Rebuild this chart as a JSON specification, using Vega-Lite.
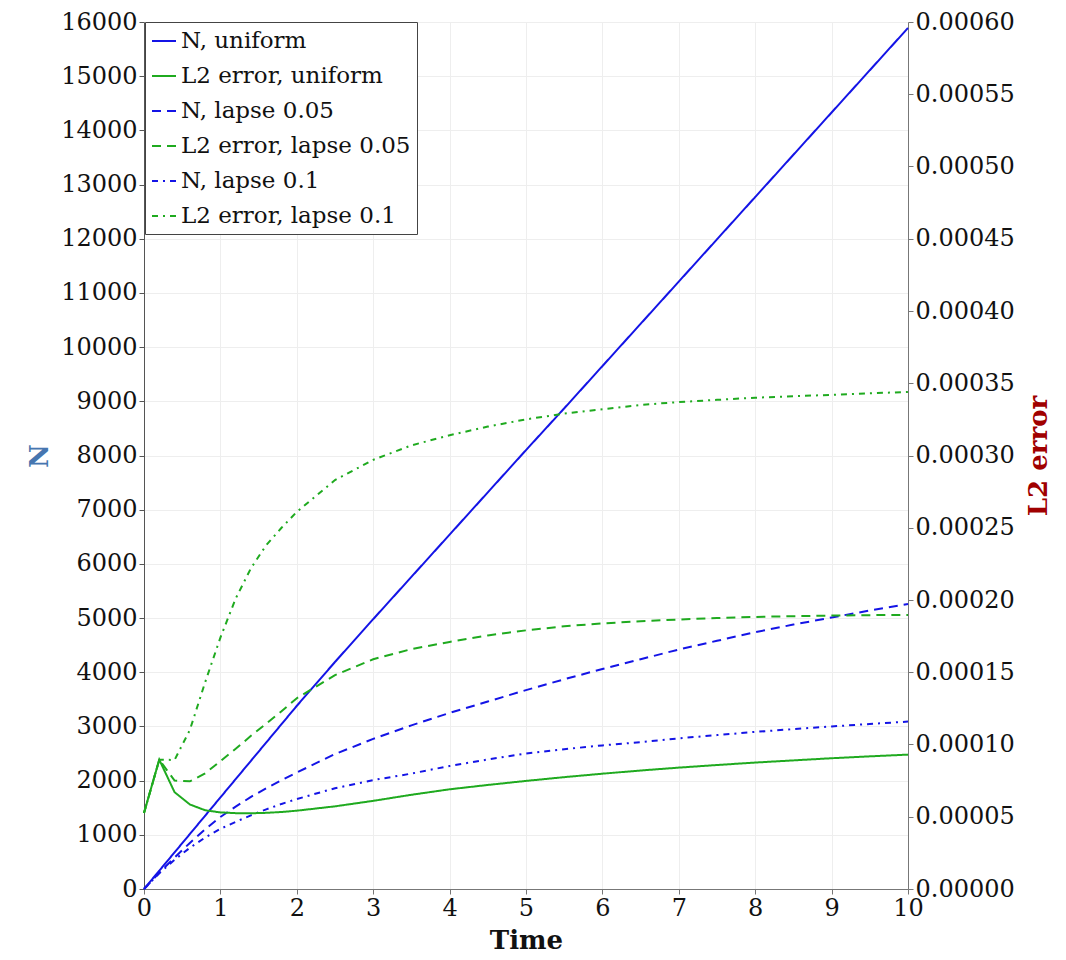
{
  "$schema": "https://vega.github.io/schema/vega-lite/v6.json",
  "width": 764,
  "height": 867,
  "autosize": {"type": "none"},
  "padding": {"left": 144, "top": 22, "right": 158, "bottom": 71},
  "background": "white",
  "config": {
    "font": "DejaVu Serif",
    "view": {"stroke": null},
    "axis": {
      "labelFont": "DejaVu Serif",
      "labelFontSize": 24,
      "labelColor": "#111111",
      "labelFlush": false,
      "labelOverlap": false,
      "titleFont": "DejaVu Serif",
      "titleFontSize": 26,
      "titleFontWeight": "bold",
      "grid": true,
      "gridColor": "#eeeeee",
      "gridWidth": 1,
      "domainColor": "#777777",
      "tickColor": "#777777",
      "tickSize": 5,
      "labelPadding": 2
    },
    "legend": {
      "orient": "none",
      "legendX": 1,
      "legendY": 0,
      "strokeColor": "#444444",
      "fillColor": "white",
      "padding": 6,
      "symbolType": "stroke",
      "symbolSize": 576,
      "symbolStrokeWidth": 2,
      "labelFont": "DejaVu Serif",
      "labelFontSize": 23,
      "labelColor": "#111111",
      "labelOffset": 4,
      "labelLimit": 500,
      "rowPadding": 10,
      "cornerRadius": 0
    }
  },
  "data": {
    "values": [
      {"t": 0, "s": "N, uniform", "v": 0},
      {"t": 0.2, "s": "N, uniform", "v": 338},
      {"t": 0.4, "s": "N, uniform", "v": 676},
      {"t": 0.6, "s": "N, uniform", "v": 1014},
      {"t": 0.8, "s": "N, uniform", "v": 1352},
      {"t": 1, "s": "N, uniform", "v": 1690},
      {"t": 1.2, "s": "N, uniform", "v": 2028},
      {"t": 1.4, "s": "N, uniform", "v": 2366},
      {"t": 1.6, "s": "N, uniform", "v": 2704},
      {"t": 1.8, "s": "N, uniform", "v": 3042},
      {"t": 2, "s": "N, uniform", "v": 3380},
      {"t": 2.5, "s": "N, uniform", "v": 4190},
      {"t": 3, "s": "N, uniform", "v": 4980},
      {"t": 3.5, "s": "N, uniform", "v": 5760},
      {"t": 4, "s": "N, uniform", "v": 6540},
      {"t": 4.5, "s": "N, uniform", "v": 7320},
      {"t": 5, "s": "N, uniform", "v": 8100},
      {"t": 5.5, "s": "N, uniform", "v": 8870},
      {"t": 6, "s": "N, uniform", "v": 9650},
      {"t": 6.5, "s": "N, uniform", "v": 10430},
      {"t": 7, "s": "N, uniform", "v": 11210},
      {"t": 7.5, "s": "N, uniform", "v": 11990},
      {"t": 8, "s": "N, uniform", "v": 12770},
      {"t": 8.5, "s": "N, uniform", "v": 13550},
      {"t": 9, "s": "N, uniform", "v": 14330},
      {"t": 9.5, "s": "N, uniform", "v": 15110},
      {"t": 10, "s": "N, uniform", "v": 15890},

      {"t": 0, "s": "N, lapse 0.05", "v": 0},
      {"t": 0.2, "s": "N, lapse 0.05", "v": 300},
      {"t": 0.4, "s": "N, lapse 0.05", "v": 580},
      {"t": 0.6, "s": "N, lapse 0.05", "v": 850},
      {"t": 0.8, "s": "N, lapse 0.05", "v": 1100},
      {"t": 1, "s": "N, lapse 0.05", "v": 1330},
      {"t": 1.2, "s": "N, lapse 0.05", "v": 1520},
      {"t": 1.4, "s": "N, lapse 0.05", "v": 1700},
      {"t": 1.6, "s": "N, lapse 0.05", "v": 1860},
      {"t": 1.8, "s": "N, lapse 0.05", "v": 2010},
      {"t": 2, "s": "N, lapse 0.05", "v": 2150},
      {"t": 2.5, "s": "N, lapse 0.05", "v": 2490},
      {"t": 3, "s": "N, lapse 0.05", "v": 2770},
      {"t": 3.5, "s": "N, lapse 0.05", "v": 3020},
      {"t": 4, "s": "N, lapse 0.05", "v": 3250},
      {"t": 4.5, "s": "N, lapse 0.05", "v": 3460},
      {"t": 5, "s": "N, lapse 0.05", "v": 3670},
      {"t": 5.5, "s": "N, lapse 0.05", "v": 3870},
      {"t": 6, "s": "N, lapse 0.05", "v": 4060},
      {"t": 6.5, "s": "N, lapse 0.05", "v": 4240},
      {"t": 7, "s": "N, lapse 0.05", "v": 4420},
      {"t": 7.5, "s": "N, lapse 0.05", "v": 4580},
      {"t": 8, "s": "N, lapse 0.05", "v": 4740},
      {"t": 8.5, "s": "N, lapse 0.05", "v": 4880},
      {"t": 9, "s": "N, lapse 0.05", "v": 5010},
      {"t": 9.5, "s": "N, lapse 0.05", "v": 5140},
      {"t": 10, "s": "N, lapse 0.05", "v": 5260},

      {"t": 0, "s": "N, lapse 0.1", "v": 0},
      {"t": 0.2, "s": "N, lapse 0.1", "v": 290},
      {"t": 0.4, "s": "N, lapse 0.1", "v": 540},
      {"t": 0.6, "s": "N, lapse 0.1", "v": 760},
      {"t": 0.8, "s": "N, lapse 0.1", "v": 950},
      {"t": 1, "s": "N, lapse 0.1", "v": 1110},
      {"t": 1.2, "s": "N, lapse 0.1", "v": 1240},
      {"t": 1.4, "s": "N, lapse 0.1", "v": 1360},
      {"t": 1.6, "s": "N, lapse 0.1", "v": 1470},
      {"t": 1.8, "s": "N, lapse 0.1", "v": 1570},
      {"t": 2, "s": "N, lapse 0.1", "v": 1660},
      {"t": 2.5, "s": "N, lapse 0.1", "v": 1860},
      {"t": 3, "s": "N, lapse 0.1", "v": 2010},
      {"t": 3.5, "s": "N, lapse 0.1", "v": 2130},
      {"t": 4, "s": "N, lapse 0.1", "v": 2270},
      {"t": 4.5, "s": "N, lapse 0.1", "v": 2390},
      {"t": 5, "s": "N, lapse 0.1", "v": 2500},
      {"t": 5.5, "s": "N, lapse 0.1", "v": 2580},
      {"t": 6, "s": "N, lapse 0.1", "v": 2650},
      {"t": 6.5, "s": "N, lapse 0.1", "v": 2710},
      {"t": 7, "s": "N, lapse 0.1", "v": 2780},
      {"t": 7.5, "s": "N, lapse 0.1", "v": 2840},
      {"t": 8, "s": "N, lapse 0.1", "v": 2900},
      {"t": 8.5, "s": "N, lapse 0.1", "v": 2950},
      {"t": 9, "s": "N, lapse 0.1", "v": 3000},
      {"t": 9.5, "s": "N, lapse 0.1", "v": 3045},
      {"t": 10, "s": "N, lapse 0.1", "v": 3090},

      {"t": 0, "s": "L2 error, uniform", "v": 5.26e-5},
      {"t": 0.2, "s": "L2 error, uniform", "v": 8.95e-5},
      {"t": 0.4, "s": "L2 error, uniform", "v": 6.7e-5},
      {"t": 0.6, "s": "L2 error, uniform", "v": 5.85e-5},
      {"t": 0.8, "s": "L2 error, uniform", "v": 5.45e-5},
      {"t": 1, "s": "L2 error, uniform", "v": 5.3e-5},
      {"t": 1.2, "s": "L2 error, uniform", "v": 5.25e-5},
      {"t": 1.4, "s": "L2 error, uniform", "v": 5.24e-5},
      {"t": 1.6, "s": "L2 error, uniform", "v": 5.27e-5},
      {"t": 1.8, "s": "L2 error, uniform", "v": 5.33e-5},
      {"t": 2, "s": "L2 error, uniform", "v": 5.42e-5},
      {"t": 2.5, "s": "L2 error, uniform", "v": 5.72e-5},
      {"t": 3, "s": "L2 error, uniform", "v": 6.1e-5},
      {"t": 3.5, "s": "L2 error, uniform", "v": 6.52e-5},
      {"t": 4, "s": "L2 error, uniform", "v": 6.9e-5},
      {"t": 4.5, "s": "L2 error, uniform", "v": 7.2e-5},
      {"t": 5, "s": "L2 error, uniform", "v": 7.48e-5},
      {"t": 5.5, "s": "L2 error, uniform", "v": 7.74e-5},
      {"t": 6, "s": "L2 error, uniform", "v": 7.98e-5},
      {"t": 6.5, "s": "L2 error, uniform", "v": 8.2e-5},
      {"t": 7, "s": "L2 error, uniform", "v": 8.4e-5},
      {"t": 7.5, "s": "L2 error, uniform", "v": 8.58e-5},
      {"t": 8, "s": "L2 error, uniform", "v": 8.75e-5},
      {"t": 8.5, "s": "L2 error, uniform", "v": 8.9e-5},
      {"t": 9, "s": "L2 error, uniform", "v": 9.05e-5},
      {"t": 9.5, "s": "L2 error, uniform", "v": 9.18e-5},
      {"t": 10, "s": "L2 error, uniform", "v": 9.3e-5},

      {"t": 0, "s": "L2 error, lapse 0.05", "v": 5.26e-5},
      {"t": 0.2, "s": "L2 error, lapse 0.05", "v": 8.95e-5},
      {"t": 0.4, "s": "L2 error, lapse 0.05", "v": 7.5e-5},
      {"t": 0.6, "s": "L2 error, lapse 0.05", "v": 7.45e-5},
      {"t": 0.8, "s": "L2 error, lapse 0.05", "v": 8.0e-5},
      {"t": 1, "s": "L2 error, lapse 0.05", "v": 8.85e-5},
      {"t": 1.2, "s": "L2 error, lapse 0.05", "v": 9.7e-5},
      {"t": 1.4, "s": "L2 error, lapse 0.05", "v": 1.06e-4},
      {"t": 1.6, "s": "L2 error, lapse 0.05", "v": 1.145e-4},
      {"t": 1.8, "s": "L2 error, lapse 0.05", "v": 1.23e-4},
      {"t": 2, "s": "L2 error, lapse 0.05", "v": 1.32e-4},
      {"t": 2.5, "s": "L2 error, lapse 0.05", "v": 1.48e-4},
      {"t": 3, "s": "L2 error, lapse 0.05", "v": 1.59e-4},
      {"t": 3.5, "s": "L2 error, lapse 0.05", "v": 1.66e-4},
      {"t": 4, "s": "L2 error, lapse 0.05", "v": 1.71e-4},
      {"t": 4.5, "s": "L2 error, lapse 0.05", "v": 1.755e-4},
      {"t": 5, "s": "L2 error, lapse 0.05", "v": 1.79e-4},
      {"t": 5.5, "s": "L2 error, lapse 0.05", "v": 1.818e-4},
      {"t": 6, "s": "L2 error, lapse 0.05", "v": 1.838e-4},
      {"t": 6.5, "s": "L2 error, lapse 0.05", "v": 1.853e-4},
      {"t": 7, "s": "L2 error, lapse 0.05", "v": 1.865e-4},
      {"t": 7.5, "s": "L2 error, lapse 0.05", "v": 1.875e-4},
      {"t": 8, "s": "L2 error, lapse 0.05", "v": 1.883e-4},
      {"t": 8.5, "s": "L2 error, lapse 0.05", "v": 1.888e-4},
      {"t": 9, "s": "L2 error, lapse 0.05", "v": 1.892e-4},
      {"t": 9.5, "s": "L2 error, lapse 0.05", "v": 1.895e-4},
      {"t": 10, "s": "L2 error, lapse 0.05", "v": 1.897e-4},

      {"t": 0, "s": "L2 error, lapse 0.1", "v": 5.26e-5},
      {"t": 0.2, "s": "L2 error, lapse 0.1", "v": 8.95e-5},
      {"t": 0.4, "s": "L2 error, lapse 0.1", "v": 8.93e-5},
      {"t": 0.6, "s": "L2 error, lapse 0.1", "v": 1.10e-4},
      {"t": 0.8, "s": "L2 error, lapse 0.1", "v": 1.43e-4},
      {"t": 1, "s": "L2 error, lapse 0.1", "v": 1.74e-4},
      {"t": 1.2, "s": "L2 error, lapse 0.1", "v": 2.01e-4},
      {"t": 1.4, "s": "L2 error, lapse 0.1", "v": 2.22e-4},
      {"t": 1.6, "s": "L2 error, lapse 0.1", "v": 2.38e-4},
      {"t": 1.8, "s": "L2 error, lapse 0.1", "v": 2.50e-4},
      {"t": 2, "s": "L2 error, lapse 0.1", "v": 2.61e-4},
      {"t": 2.5, "s": "L2 error, lapse 0.1", "v": 2.83e-4},
      {"t": 3, "s": "L2 error, lapse 0.1", "v": 2.97e-4},
      {"t": 3.5, "s": "L2 error, lapse 0.1", "v": 3.07e-4},
      {"t": 4, "s": "L2 error, lapse 0.1", "v": 3.14e-4},
      {"t": 4.5, "s": "L2 error, lapse 0.1", "v": 3.2e-4},
      {"t": 5, "s": "L2 error, lapse 0.1", "v": 3.25e-4},
      {"t": 5.5, "s": "L2 error, lapse 0.1", "v": 3.29e-4},
      {"t": 6, "s": "L2 error, lapse 0.1", "v": 3.32e-4},
      {"t": 6.5, "s": "L2 error, lapse 0.1", "v": 3.35e-4},
      {"t": 7, "s": "L2 error, lapse 0.1", "v": 3.37e-4},
      {"t": 7.5, "s": "L2 error, lapse 0.1", "v": 3.385e-4},
      {"t": 8, "s": "L2 error, lapse 0.1", "v": 3.40e-4},
      {"t": 8.5, "s": "L2 error, lapse 0.1", "v": 3.41e-4},
      {"t": 9, "s": "L2 error, lapse 0.1", "v": 3.42e-4},
      {"t": 9.5, "s": "L2 error, lapse 0.1", "v": 3.43e-4},
      {"t": 10, "s": "L2 error, lapse 0.1", "v": 3.44e-4}
    ]
  },
  "encoding": {
    "x": {
      "field": "t",
      "type": "quantitative",
      "scale": {"domain": [0, 10], "nice": false},
      "axis": {
        "title": "Time",
        "titleColor": "#111111",
        "values": [0, 1, 2, 3, 4, 5, 6, 7, 8, 9, 10],
        "format": "d",
        "titlePadding": 7
      }
    },
    "color": {
      "field": "s",
      "type": "nominal",
      "scale": {
        "domain": ["N, uniform", "L2 error, uniform", "N, lapse 0.05", "L2 error, lapse 0.05", "N, lapse 0.1", "L2 error, lapse 0.1"],
        "range": ["#1414e6", "#1faa1f", "#1414e6", "#1faa1f", "#1414e6", "#1faa1f"]
      },
      "legend": {"title": null}
    },
    "strokeDash": {
      "field": "s",
      "type": "nominal",
      "scale": {
        "domain": ["N, uniform", "L2 error, uniform", "N, lapse 0.05", "L2 error, lapse 0.05", "N, lapse 0.1", "L2 error, lapse 0.1"],
        "range": [[1, 0], [1, 0], [9, 6], [9, 6], [6, 5, 2, 5], [6, 5, 2, 5]]
      },
      "legend": {"title": null}
    }
  },
  "layer": [
    {
      "transform": [{"filter": "indexof(datum.s, 'N,') === 0"}],
      "mark": {"type": "line", "strokeWidth": 2},
      "encoding": {
        "y": {
          "field": "v",
          "type": "quantitative",
          "scale": {"domain": [0, 16000], "nice": false},
          "axis": {
            "orient": "left",
            "title": "N",
            "titleColor": "#4676b0",
            "values": [0, 1000, 2000, 3000, 4000, 5000, 6000, 7000, 8000, 9000, 10000, 11000, 12000, 13000, 14000, 15000, 16000],
            "format": "d",
            "domainColor": "#555555",
            "tickColor": "#555555",
            "titlePadding": 8
          }
        }
      }
    },
    {
      "transform": [{"filter": "indexof(datum.s, 'L2') === 0"}],
      "mark": {"type": "line", "strokeWidth": 2},
      "encoding": {
        "y": {
          "field": "v",
          "type": "quantitative",
          "scale": {"domain": [0, 0.0006], "nice": false},
          "axis": {
            "orient": "right",
            "title": "L2 error",
            "titleColor": "#a00000",
            "titleAngle": 270,
            "values": [0, 0.00005, 0.0001, 0.00015, 0.0002, 0.00025, 0.0003, 0.00035, 0.0004, 0.00045, 0.0005, 0.00055, 0.0006],
            "format": ".5f",
            "titlePadding": 37
          }
        }
      }
    }
  ],
  "resolve": {"scale": {"y": "independent"}}
}
